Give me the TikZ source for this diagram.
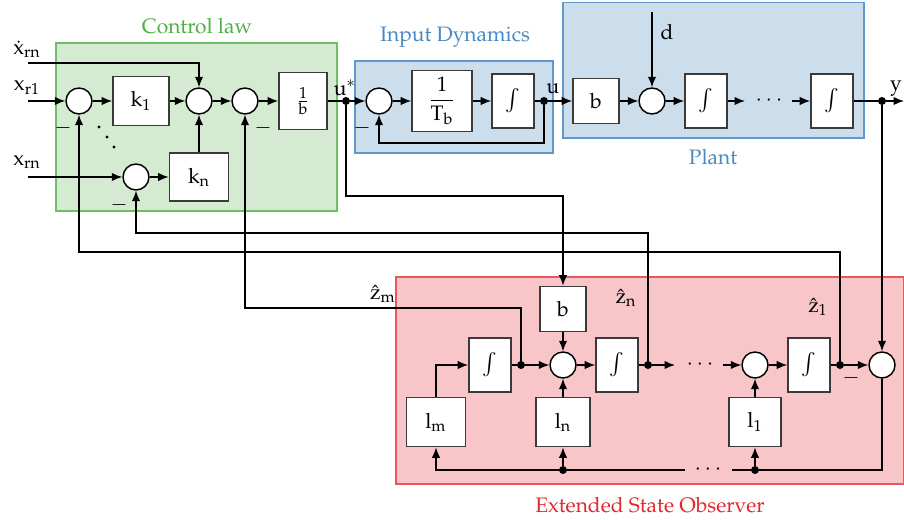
\documentclass[tikz,border=0pt]{standalone}
\IfFileExists{mathpazo.sty}{\usepackage[T1]{fontenc}\usepackage{mathpazo}}{}
\usetikzlibrary{arrows.meta,backgrounds}
\definecolor{clFill}{HTML}{D4EAD1}
\definecolor{clLine}{HTML}{6CBF62}
\definecolor{clText}{HTML}{4DB043}
\definecolor{bluFill}{HTML}{CCDDEC}
\definecolor{bluLine}{HTML}{5E98CE}
\definecolor{bluText}{HTML}{4A88C2}
\definecolor{esoFill}{HTML}{F8C6C8}
\definecolor{esoLine}{HTML}{E9575C}
\definecolor{esoText}{HTML}{E0282F}
\definecolor{blkGray}{HTML}{3A3A3A}
\newlength\px
\setlength\px{0.477pt}
% upright symbols, as in the block labels
\newcommand{\up}[1]{\mathrm{#1}}

\begin{document}
\begin{tikzpicture}[
  x=1\px, y=-1\px,
  blk/.style 2 args={draw=blkGray, line width=0.8pt, fill=white, inner sep=0pt,
                     minimum width=#1\px, minimum height=#2\px},
  sumc/.style={circle, draw, line width=0.7pt, fill=white, inner sep=0pt, minimum size=26\px},
  jdot/.style={circle, fill, inner sep=0pt, minimum size=8\px},
  lbl/.style={inner sep=1pt},
  grp/.style={line width=0.8pt},
  sig/.style={-{Latex[length=5pt,width=4pt]}, line width=0.6pt},
  wire/.style={line width=0.6pt},
]
\useasboundingbox (0,0) rectangle (904,519);

% --- control law ---------------------------------------------------------
\node[sumc] (s1) at (79,101) {};
\node[blk={56}{49}] (k1) at (141,101) {$\up{k}_1$};
\node[sumc] (s2) at (199,101) {};
\node[sumc] (s3) at (245,101) {};
\node[blk={48}{57}] (binv) at (303,101) {$\frac{1}{\up{b}}$};
\node[jdot] (ustar) at (346,101) {};
\node[sumc] (skn) at (136,177) {};
\node[blk={59}{48}] (kn) at (199,177) {$\up{k}_\up{n}$};
\coordinate (inxd) at (28,63);
\coordinate (inx1) at (28,101);
\coordinate (inxn) at (28,177);
\node[lbl] (lxd) at (27,49) {$\dot{\up{x}}_{\up{rn}}$};
\node[lbl] (lx1) at (27,88) {$\up{x}_{\up{r1}}$};
\node[lbl] (lxn) at (27,162) {$\up{x}_{\up{rn}}$};
\node[lbl] (lus) at (345,88) {$\up{u}^*$};
\node[lbl] (m1) at (63,128) {$-$};
\node[lbl] (m3) at (263,128) {$-$};
\node[lbl] (mkn) at (119,205) {$-$};
\foreach \p in {(99,127),(107,137),(114,147)} \fill \p circle (0.8pt);

% --- input dynamics ------------------------------------------------------
\node[sumc] (si) at (379,101) {};
\node[blk={60}{61}] (tb) at (442,101) {$\displaystyle\frac{1}{\up{T}_\up{b}}$};
\node[blk={42}{54}] (ia) at (513,101) {$\int$};
\node[jdot] (udot) at (544,101) {};
\node[lbl] (lu) at (553,89) {$\up{u}$};
\node[lbl] (mi) at (362,128) {$-$};

% --- plant ---------------------------------------------------------------
\node[blk={46}{45}] (pb) at (596,101) {$\up{b}$};
\node[sumc] (sp) at (652,101) {};
\node[blk={42}{54}] (pi1) at (706,101) {$\int$};
\node (pdots) at (769,101) {$\cdots$};
\node[blk={42}{54}] (pi2) at (832,101) {$\int$};
\node[jdot] (ydot) at (882,101) {};
\coordinate (yout) at (904,101);
\coordinate (din) at (652,12);
\coordinate (pgo) at (745,101);
\coordinate (pcome) at (792,101);
\node[lbl] (ld) at (667,32) {$\up{d}$};
\node[lbl] (ly) at (896,89) {$\up{y}$};

% --- extended state observer ---------------------------------------------
\node[blk={46}{45}] (eb) at (563,309) {$\up{b}$};
\node[blk={42}{54}] (eim) at (490,365) {$\int$};
\node[jdot] (dzm) at (521,365) {};
\node[sumc] (se) at (563,365) {};
\node[blk={42}{54}] (ein) at (617,365) {$\int$};
\node[jdot] (dzn) at (648,365) {};
\node (edots) at (700,365) {$\cdots$};
\node[sumc] (se1) at (755,365) {};
\node[blk={42}{54}] (ei1) at (809,365) {$\int$};
\node[jdot] (dz1) at (840,365) {};
\node[sumc] (sy) at (882,365) {};
\node[blk={59}{49}] (lm) at (436,422) {$\up{l}_\up{m}$};
\node[blk={54}{49}] (ln) at (563,422) {$\up{l}_\up{n}$};
\node[blk={52}{49}] (l1) at (755,422) {$\up{l}_1$};
\node[jdot] (bdn) at (563,470) {};
\node[jdot] (bd1) at (755,470) {};
\node (bdots) at (708,470) {$\cdots$};
\coordinate (ego) at (675,365);
\coordinate (ecome) at (723,365);
\coordinate (gapL) at (685,470);
\coordinate (gapR) at (732,470);
\node[lbl] (lzm) at (383,294) {$\hat{\up{z}}_\up{m}$};
\node[lbl] (lzn) at (626,298) {$\hat{\up{z}}_\up{n}$};
\node[lbl] (lz1) at (818,307) {$\hat{\up{z}}_1$};
\node[lbl] (my) at (851,378) {$-$};

% rows of the long return wires
\coordinate (rowU) at (0,196);
\coordinate (rowZn) at (0,233);
\coordinate (rowZ1) at (0,252);
\coordinate (rowZm) at (0,308);
\coordinate (rowFb) at (0,143);

% --- group titles --------------------------------------------------------
\node[text=clText] (tcl) at (197,26) {Control law};
\node[text=bluText] (tid) at (455,37) {Input Dynamics};
\node[text=bluText] (tpl) at (713,157) {Plant};
\node[text=esoText] (teso) at (650,505) {Extended State Observer};

% --- wires ---------------------------------------------------------------
\draw[sig] (inx1) -- (s1);
\draw[sig] (s1) -- (k1);
\draw[sig] (k1) -- (s2);
\draw[sig] (s2) -- (s3);
\draw[sig] (s3) -- (binv);
\draw[wire] (binv) -- (ustar);
\draw[sig] (inxd) -| (s2);
\draw[sig] (kn) -- (s2);
\draw[sig] (inxn) -- (skn);
\draw[sig] (skn) -- (kn);

\draw[sig] (ustar) -- (si);
\draw[sig] (si) -- (tb);
\draw[sig] (tb) -- (ia);
\draw[wire] (ia) -- (udot);
\draw[sig] (udot) -- (udot |- rowFb) -| (si);
\draw[sig] (udot) -- (pb);

\draw[sig] (pb) -- (sp);
\draw[sig] (din) -- (sp);
\draw[sig] (sp) -- (pi1);
\draw[sig] (pi1) -- (pgo);
\draw[sig] (pcome) -- (pi2);
\draw[wire] (pi2) -- (ydot);
\draw[sig] (ydot) -- (yout);
\draw[sig] (ydot) -- (sy);

\draw[sig] (ustar) -- (ustar |- rowU) -| (eb);
\draw[sig] (eb) -- (se);
\draw[sig] (lm) |- (eim);
\draw[wire] (eim) -- (dzm);
\draw[sig] (dzm) -- (se);
\draw[sig] (ln) -- (se);
\draw[sig] (se) -- (ein);
\draw[wire] (ein) -- (dzn);
\draw[sig] (dzn) -- (ego);
\draw[sig] (ecome) -- (se1);
\draw[sig] (l1) -- (se1);
\draw[sig] (se1) -- (ei1);
\draw[wire] (ei1) -- (dz1);
\draw[sig] (dz1) -- (sy);
\draw[wire] (sy) |- (bd1);
\draw[wire] (bd1) -- (gapR);
\draw[sig] (gapL) -- (bdn) -| (lm);
\draw[sig] (bdn) -- (ln);
\draw[sig] (bd1) -- (l1);

\draw[sig] (dzm) -- (dzm |- rowZm) -| (s3);
\draw[sig] (dzn) -- (dzn |- rowZn) -| (skn);
\draw[sig] (dz1) -- (dz1 |- rowZ1) -| (s1);

% --- shaded groups -------------------------------------------------------
\begin{scope}[on background layer]
  \draw[grp, draw=clLine, fill=clFill] (56,43) rectangle (337,211);
  \draw[grp, draw=bluLine, fill=bluFill] (355,61) rectangle (553,153);
  \draw[grp, draw=bluLine, fill=bluFill] (563,2.5) rectangle (864,138);
  \draw[grp, draw=esoLine, fill=esoFill] (396,277) rectangle (903.5,484);
\end{scope}

\end{tikzpicture}
\end{document}
